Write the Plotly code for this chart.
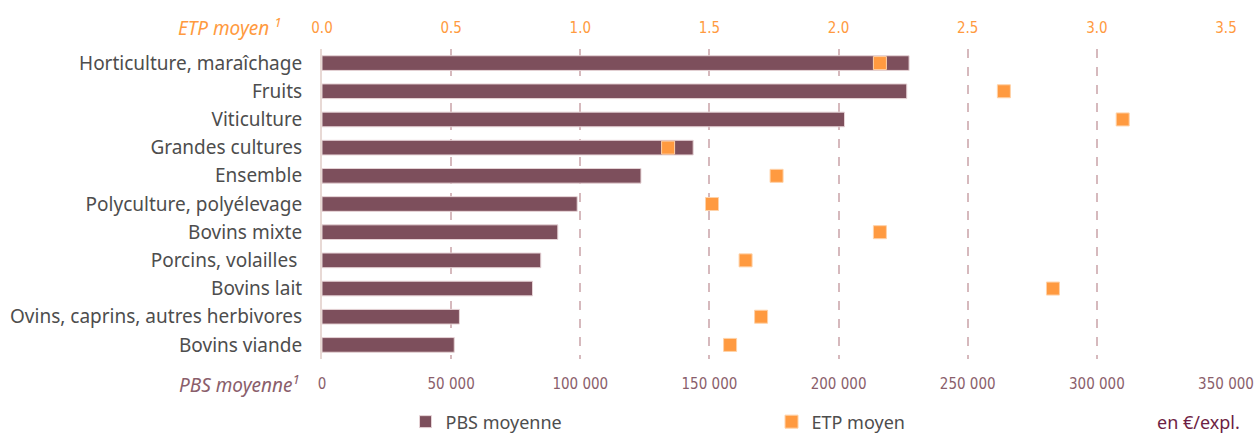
import plotly.graph_objects as go

categories = ["Horticulture, maraîchage", "Fruits", "Viticulture", "Grandes cultures",
              "Ensemble", "Polyculture, polyélevage", "Bovins mixte", "Porcins, volailles ",
              "Bovins lait", "Ovins, caprins, autres herbivores", "Bovins viande"]
pbs_moyenne = [227300, 226400, 202300, 143700, 123500, 98800, 91300, 84700, 81500, 53200, 51200]
etp_moyen = [2.16, 2.64, 3.10, 1.34, 1.76, 1.51, 2.16, 1.64, 2.83, 1.70, 1.58]

pbs_ticks = [0, 50000, 100000, 150000, 200000, 250000, 300000, 350000]
pbs_ticklabels = ["0", "50 000", "100 000", "150 000", "200 000", "250 000", "300 000", "350 000"]
etp_ticks = [0, 0.5, 1.0, 1.5, 2.0, 2.5, 3.0, 3.5]
etp_ticklabels = ["0.0", "0.5", "1.0", "1.5", "2.0", "2.5", "3.0", "3.5"]

BAR = "#7D4F5C"
ORANGE = "#FF9A40"
GRID = "#D6B9BD"
MAUVE = "#8A5E6B"
LABEL = "#4D4D4D"
FONT = "'Noto Sans', 'Open Sans', sans-serif"
NUMFONT = "'Liberation Sans Narrow', 'DejaVu Sans Condensed', Roboto, sans-serif"

fig = go.Figure()
fig.add_trace(go.Bar(
    y=categories, x=pbs_moyenne, orientation="h", name="PBS moyenne",
    marker=dict(color=BAR, line=dict(color="#E6D3D6", width=1)),
    width=0.52, xaxis="x", yaxis="y",
))
fig.add_trace(go.Scatter(
    y=categories, x=etp_moyen, mode="markers", name="ETP moyen",
    marker=dict(symbol="square", size=13, color=ORANGE, line=dict(color="#FFD2A8", width=1)),
    xaxis="x2", yaxis="y",
))

n = len(categories)
fig.update_layout(
    width=1256, height=434,
    margin=dict(l=322, r=30, t=49, b=75, autoexpand=False),
    paper_bgcolor="white", plot_bgcolor="white",
    font=dict(family=FONT, color=LABEL, size=17),
    xaxis=dict(
        range=[0, 350000], tickvals=pbs_ticks, ticktext=pbs_ticklabels,
        showgrid=True, gridcolor=GRID, griddash="dash", gridwidth=1.5,
        zeroline=False, showline=False, ticks="", automargin=False,
        tickfont=dict(family=NUMFONT, size=15, color=MAUVE),
        ticklabelstandoff=14,
    ),
    xaxis2=dict(
        range=[0, 3.5], tickvals=etp_ticks, ticktext=etp_ticklabels,
        overlaying="x", side="top", showgrid=False, zeroline=False, ticks="",
        automargin=False,
        tickfont=dict(family=NUMFONT, size=15, color=ORANGE),
        ticklabelstandoff=12,
    ),
    yaxis=dict(
        categoryorder="array", categoryarray=categories, range=[n - 0.5, -0.5],
        showline=True, linecolor="#E8D9D5", linewidth=2, ticks="", automargin=False,
        tickfont=dict(family=FONT, size=19, color=LABEL),
        ticklabelstandoff=14, showgrid=False,
    ),
    legend=dict(
        orientation="h", x=0.0924, y=-0.203, xanchor="left", yanchor="middle",
        entrywidth=321, font=dict(family=FONT, size=18, color=LABEL),
        bgcolor="rgba(0,0,0,0)",
    ),
    annotations=[
        dict(text="<i>ETP moyen <sup>1</sup></i>", xref="paper", yref="paper",
             x=-0.042, y=1, yshift=22, xanchor="right", yanchor="middle", showarrow=False,
             font=dict(family=FONT, size=19, color=ORANGE)),
        dict(text="<i>PBS moyenne<sup>1</sup></i>", xref="paper", yref="paper",
             x=-0.022, y=0, yshift=-25, xanchor="right", yanchor="middle", showarrow=False,
             font=dict(family=FONT, size=19, color=MAUVE)),
        dict(text="en €/expl.", xref="paper", yref="paper",
             x=1.0177, y=-0.203, xanchor="right", yanchor="middle", showarrow=False,
             font=dict(family=FONT, size=18, color="#6E1E44")),
    ],
)

fig.write_html("out.html", config={"displayModeBar": False},
               post_script="document.body.style.margin='0';document.body.style.overflow='hidden';")
